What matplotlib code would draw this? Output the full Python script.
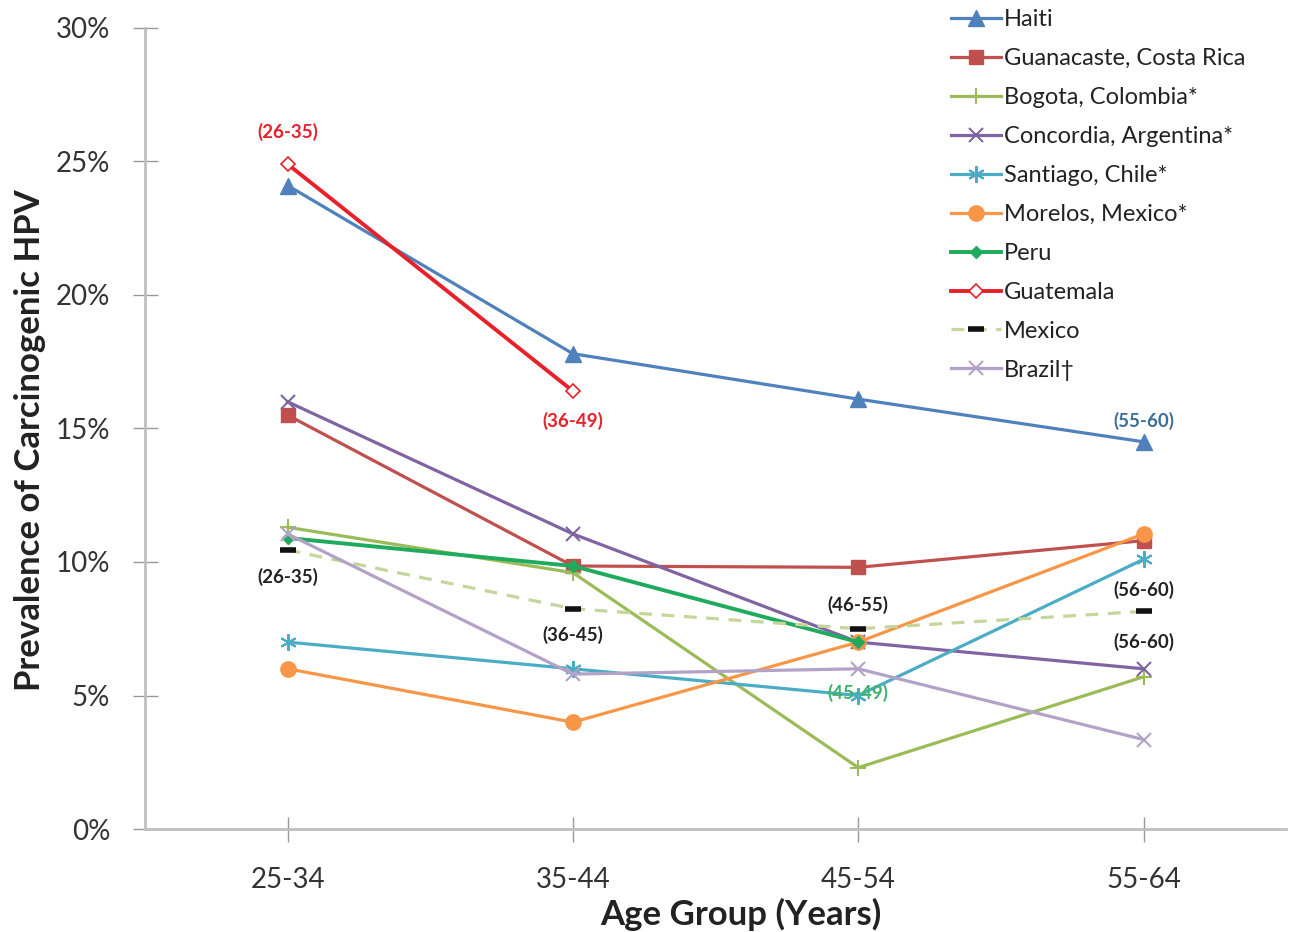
import matplotlib
matplotlib.use("Agg")
import matplotlib.pyplot as plt
import numpy as np

plt.rcParams['font.family'] = ['Lato', 'DejaVu Sans']

age_groups = ['25-34', '35-44', '45-54', '55-64']

haiti = [24.1, 17.8, 16.1, 14.5]
guanacaste = [15.5, 9.85, 9.8, 10.8]
bogota = [11.3, 9.6, 2.3, 5.7]
concordia = [16.0, 11.05, 7.0, 6.0]
santiago = [7.0, 6.0, 5.0, 10.1]
morelos = [6.0, 4.0, 7.0, 11.05]
peru = [10.9, 9.85, 7.0, np.nan]
guatemala = [24.9, 16.4, np.nan, np.nan]
mexico = [10.45, 8.25, 7.5, 8.15]
brazil = [11.05, 5.8, 6.0, 3.35]

# age ranges written beside some points: (x index, value, text, colour)
notes = [
    (0, 26.1, '(26-35)', '#E8202A'),
    (1, 15.3, '(36-49)', '#E8202A'),
    (0, 9.45, '(26-35)', '#222222'),
    (1, 7.25, '(36-45)', '#222222'),
    (2, 8.4, '(46-55)', '#222222'),
    (3, 8.95, '(56-60)', '#222222'),
    (3, 7.0, '(56-60)', '#222222'),
    (2, 5.1, '(45-49)', '#3DB36B'),
    (3, 15.3, '(55-60)', '#3A6E9A'),
]

x = np.arange(len(age_groups)) + 0.5

fig = plt.figure(figsize=(12.91, 9.32), dpi=100)
ax = fig.add_axes([0.1123, 0.1105, 0.884, 0.8595])

lw = 2.3
ax.plot(x, np.array(haiti) / 100, color='#4F81BD', lw=lw, marker='^', ms=11, label='Haiti')
ax.plot(x, np.array(guanacaste) / 100, color='#C0504D', lw=lw, marker='s', ms=10, label='Guanacaste, Costa Rica')
ax.plot(x, np.array(bogota) / 100, color='#9BBB59', lw=lw, marker='+', ms=11, mew=1.5, label='Bogota, Colombia*')
ax.plot(x, np.array(concordia) / 100, color='#8064A2', lw=lw, marker='x', ms=10, mew=1.5, label='Concordia, Argentina*')
ax.plot(x, np.array(santiago) / 100, color='#4BACC6', lw=lw, marker=(6, 2, 0), ms=12, mew=1.5, label='Santiago, Chile*')
ax.plot(x, np.array(morelos) / 100, color='#F79646', lw=lw, marker='o', ms=11, label='Morelos, Mexico*')
ax.plot(x, np.array(peru) / 100, color='#1FAA5E', lw=lw + 0.5, marker='D', ms=6, label='Peru')
ax.plot(x, np.array(guatemala) / 100, color='#E8202A', lw=lw + 0.5, marker='D', ms=7, mfc='white', mec='#E8202A', mew=1.2, label='Guatemala')
ax.plot(x, np.array(mexico) / 100, color='#C3D69B', lw=lw, ls=(0, (4, 3)), marker='_', ms=11, mec='#111111', mew=4, label='Mexico')
ax.plot(x, np.array(brazil) / 100, color='#B3A2C7', lw=lw, marker='x', ms=10, mew=1.5, label='Brazil\u2020')

for i, v, t, c in notes:
    ax.text(x[i], v / 100, t, color=c, fontsize=13.5, fontweight='bold', ha='center', va='center')

ax.set_xlim(0, 4)
ax.set_ylim(0, 0.30)
ax.set_xticks(x)
ax.set_xticklabels(age_groups)
ax.set_yticks(np.arange(0, 0.31, 0.05))
ax.set_yticklabels(['%d%%' % v for v in range(0, 31, 5)])

for s in ['top', 'right']:
    ax.spines[s].set_visible(False)
for s in ['left', 'bottom']:
    ax.spines[s].set_color('#BFBFBF')
    ax.spines[s].set_linewidth(2)

ax.tick_params(axis='both', direction='inout', length=18, width=1, color='#999999',
               labelsize=20, labelcolor='#333333')
ax.tick_params(axis='y', pad=16)
ax.tick_params(axis='x', pad=18)

ax.set_xlabel('Age Group (Years)', fontsize=25, fontweight='bold', color='#222222')
ax.set_ylabel('Prevalence of Carcinogenic HPV', fontsize=25, fontweight='bold', color='#222222')
ax.xaxis.set_label_coords(0.522, -0.086)
ax.yaxis.set_label_coords(-0.087, 0.486)

leg = ax.legend(loc='upper left', bbox_to_anchor=(0.688, 1.05), frameon=False, fontsize=17,
                handlelength=2.1, handletextpad=0.13, labelspacing=0.76, labelcolor='#222222')

fig.savefig('out.png', dpi=100)
